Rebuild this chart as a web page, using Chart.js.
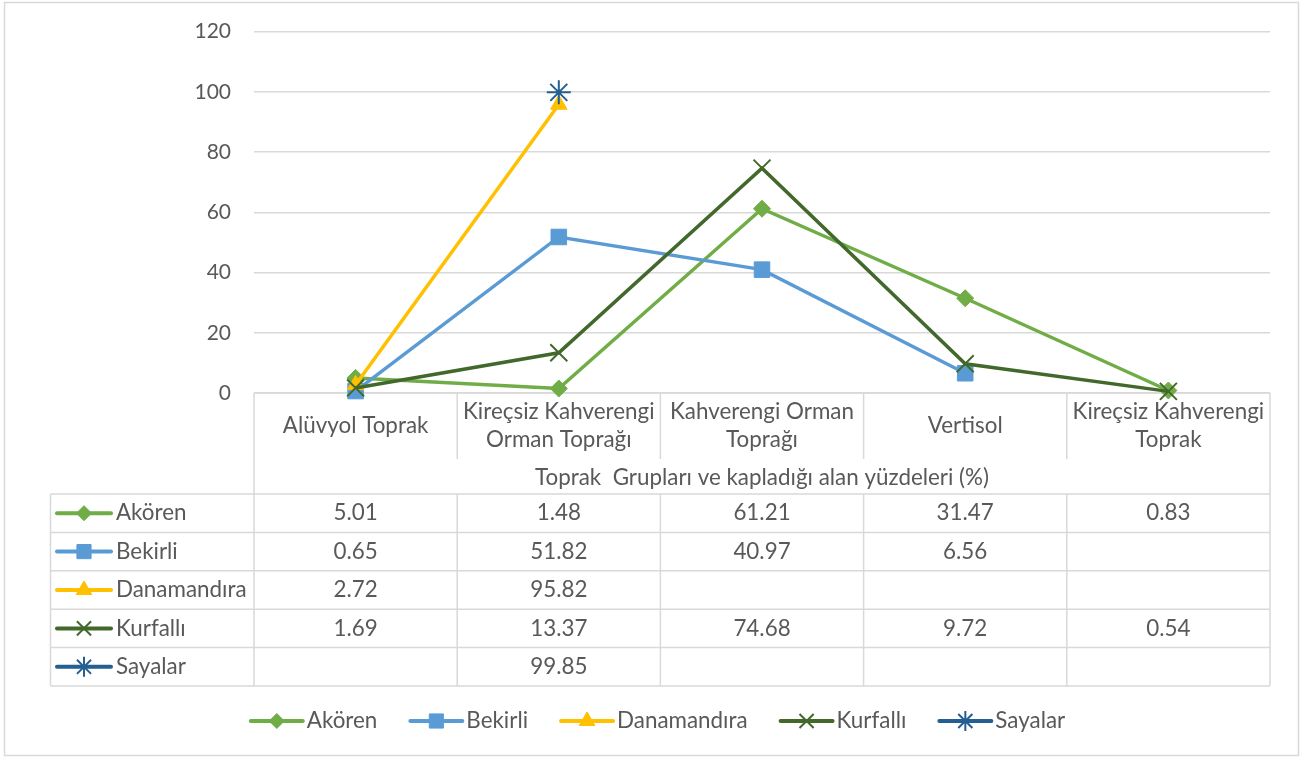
<!DOCTYPE html>
<html>
<head>
<meta charset="utf-8">
<title>Toprak Grupları</title>
<script src="https://cdn.jsdelivr.net/npm/chart.js"></script>
<style>
  html, body { margin: 0; padding: 0; background: #ffffff; }
  #wrap { width: 1302px; height: 758px; position: relative; }
</style>
</head>
<body>
<div id="wrap"><canvas id="chart"></canvas></div>
<script>
// ---- data ----
const categories = [
  ['Alüvyol Toprak'],
  ['Kireçsiz Kahverengi', 'Orman Toprağı'],
  ['Kahverengi Orman', 'Toprağı'],
  ['Vertisol'],
  ['Kireçsiz Kahverengi', 'Toprak']
];
const axisTitle = 'Toprak  Grupları ve kapladığı alan yüzdeleri (%)';
const seriesNames = ['Akören', 'Bekirli', 'Danamandıra', 'Kurfallı', 'Sayalar'];
const akoren      = [5.01, 1.48, 61.21, 31.47, 0.83];
const bekirli     = [0.65, 51.82, 40.97, 6.56, null];
const danamandira = [2.72, 95.82, null, null, null];
const kurfalli    = [1.69, 13.37, 74.68, 9.72, 0.54];
const sayalar     = [null, 99.85, null, null, null];
const yTicks = [0, 20, 40, 60, 80, 100, 120];

const seriesValues = [akoren, bekirli, danamandira, kurfalli, sayalar];

// ---- styles ----
const seriesColors  = ['#70AD47', '#5B9BD5', '#FFC000', '#43682B', '#255E91'];
const seriesMarkers = ['rectRot', 'rect', 'triangle', 'crossRot', 'star'];
const markerRadius  = [8.5, 11, 9.5, 12, 12];
const keyRadius     = [7.5, 10, 9, 10, 10];
const markerBorder  = [1, 1, 1, 2, 2];

const FONT = '22.4px Lato, "Open Sans", sans-serif';
const TEXT = '#595959';
const RULE = '#D9D9D9';

function drawMarker(ctx, i, x, y, r) {
  ctx.save();
  ctx.fillStyle = seriesColors[i];
  ctx.strokeStyle = seriesColors[i];
  ctx.lineWidth = markerBorder[i];
  Chart.helpers.drawPoint(ctx, {
    pointStyle: seriesMarkers[i], radius: r, rotation: 0, borderWidth: markerBorder[i]
  }, x, y);
  ctx.restore();
}

function drawKey(ctx, i, x1, x2, y) {
  ctx.save();
  ctx.strokeStyle = seriesColors[i];
  ctx.lineWidth = 4;
  ctx.lineCap = 'round';
  ctx.beginPath();
  ctx.moveTo(x1, y);
  ctx.lineTo(x2, y);
  ctx.stroke();
  ctx.restore();
  drawMarker(ctx, i, (x1 + x2) / 2, y, keyRadius[i]);
}

function hLine(ctx, x1, x2, y) {
  ctx.beginPath(); ctx.moveTo(x1, y); ctx.lineTo(x2, y); ctx.stroke();
}
function vLine(ctx, x, y1, y2) {
  ctx.beginPath(); ctx.moveTo(x, y1); ctx.lineTo(x, y2); ctx.stroke();
}

// Frame, data table under the plot, and bottom legend
const tablePlugin = {
  id: 'dataTable',
  beforeDraw(chart) {
    const ctx = chart.ctx;
    ctx.save();
    ctx.fillStyle = '#ffffff';
    ctx.fillRect(0, 0, chart.width, chart.height);
    ctx.strokeStyle = RULE;
    ctx.lineWidth = 1.5;
    ctx.strokeRect(4.5, 2.5, 1294, 753);
    ctx.restore();
  },
  beforeDatasetsDraw(chart) {
    const ctx = chart.ctx;
    const ca = chart.chartArea;
    const xs = chart.scales.x;
    const n = categories.length;
    const centers = categories.map((c, i) => xs.getPixelForValue(i));
    const edges = [ca.left];
    for (let i = 0; i < n - 1; i++) edges.push((centers[i] + centers[i + 1]) / 2);
    edges.push(ca.right);

    const top = ca.bottom;
    const headBottom = top + 66;
    const titleBottom = top + 101;
    const rowH = 38.4;
    const tableLeft = 50.5;
    const tableBottom = titleBottom + rowH * seriesNames.length;

    ctx.save();
    ctx.strokeStyle = RULE;
    ctx.lineWidth = 1.5;
    // category header block
    hLine(ctx, ca.left, ca.right, top);
    for (let k = 1; k < n; k++) vLine(ctx, edges[k], top, headBottom);
    vLine(ctx, ca.left, top, tableBottom);
    vLine(ctx, ca.right, top, tableBottom);
    // series rows
    for (let r = 0; r <= seriesNames.length; r++) hLine(ctx, tableLeft, ca.right, titleBottom + rowH * r);
    vLine(ctx, tableLeft, titleBottom, tableBottom);
    for (let k = 1; k < n; k++) vLine(ctx, edges[k], titleBottom, tableBottom);

    ctx.fillStyle = TEXT;
    ctx.font = FONT;
    ctx.textAlign = 'center';
    ctx.textBaseline = 'middle';
    const headMid = (top + headBottom) / 2;
    categories.forEach((lines, i) => {
      const lh = 28;
      const y0 = headMid - (lines.length - 1) * lh / 2;
      lines.forEach((t, j) => ctx.fillText(t, centers[i], y0 + j * lh));
    });
    ctx.fillText(axisTitle, (ca.left + ca.right) / 2, (headBottom + titleBottom) / 2 + 1);

    seriesNames.forEach((name, s) => {
      const yMid = titleBottom + rowH * (s + 0.5);
      seriesValues[s].forEach((v, i) => {
        if (v !== null) {
          ctx.textAlign = 'center';
          ctx.fillText(v.toFixed(2), centers[i], yMid);
        }
      });
      drawKey(ctx, s, 57, 111, yMid);
      ctx.fillStyle = TEXT;
      ctx.textAlign = 'left';
      ctx.fillText(name, 116, yMid);
    });

    // bottom legend
    const keyLen = 52, keyGap = 4, itemGap = 33;
    const widths = seriesNames.map(t => keyLen + keyGap + ctx.measureText(t).width);
    const total = widths.reduce((a, b) => a + b, 0) + itemGap * (seriesNames.length - 1);
    let x = 658 - total / 2;
    const ly = 721;
    seriesNames.forEach((name, s) => {
      drawKey(ctx, s, x, x + keyLen, ly);
      ctx.fillStyle = TEXT;
      ctx.textAlign = 'left';
      ctx.fillText(name, x + keyLen + keyGap, ly);
      x += widths[s] + itemGap;
    });
    ctx.restore();
  }
};

const datasets = seriesNames.map((name, i) => ({
  label: name,
  data: seriesValues[i],
  borderColor: seriesColors[i],
  backgroundColor: seriesColors[i],
  borderWidth: 3.5,
  tension: 0,
  fill: false,
  pointStyle: seriesMarkers[i],
  pointRadius: markerRadius[i],
  pointHoverRadius: markerRadius[i],
  pointBackgroundColor: seriesColors[i],
  pointBorderColor: seriesColors[i],
  pointBorderWidth: markerBorder[i],
  clip: false,
  order: seriesNames.length - i
}));

new Chart(document.getElementById('chart'), {
  type: 'line',
  data: { labels: categories, datasets },
  options: {
    responsive: true,
    maintainAspectRatio: false,
    animation: false,
    layout: { autoPadding: false, padding: { left: 0, right: 32, top: 31.7, bottom: 365 } },
    plugins: { legend: { display: false }, tooltip: { enabled: false } },
    scales: {
      x: { type: 'category', offset: true, display: false },
      y: {
        min: 0, max: 120,
        afterFit(s) { s.width = 254; s.paddingTop = 0; s.paddingBottom = 0; },
        afterBuildTicks(s) { s.ticks = yTicks.map(v => ({ value: v })); },
        border: { display: false },
        grid: { color: RULE, lineWidth: 1.5, drawTicks: false },
        ticks: { color: TEXT, font: { family: 'Lato', size: 21 }, padding: 23 }
      }
    }
  },
  plugins: [tablePlugin]
});
</script>
</body>
</html>
